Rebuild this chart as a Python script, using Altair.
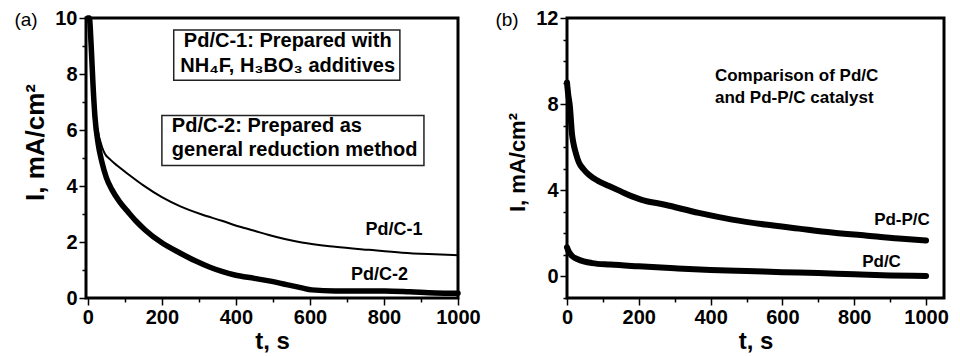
import altair as alt
import pandas as pd

FONT = "Liberation Sans"

# ---------------- Panel (a) data ----------------
t_pdc1 = [0, 3, 8, 16, 25, 38, 46, 60, 80, 111, 150, 200, 250, 308, 362, 397,
          450, 489, 578, 668, 759, 849, 920, 1000]
i_pdc1 = [10.0, 9.8, 8.6, 7.0, 6.1, 5.4, 5.15, 4.95, 4.72, 4.4, 4.02, 3.6,
          3.27, 2.98, 2.76, 2.6, 2.4, 2.25, 1.98, 1.83, 1.72, 1.62, 1.57, 1.53]

t_pdc2 = [0, 4, 9, 14, 19, 28, 38, 50, 65, 85, 110, 130, 154, 200, 250, 290,
          330, 362, 397, 450, 489, 540, 578, 605, 668, 740, 803, 870, 938, 1000]
i_pdc2 = [10.0, 10.0, 9.0, 7.6, 6.5, 5.5, 4.85, 4.3, 3.87, 3.45, 3.05, 2.75,
          2.44, 1.97, 1.6, 1.33, 1.1, 0.95, 0.82, 0.7, 0.61, 0.47, 0.36, 0.29,
          0.25, 0.25, 0.25, 0.22, 0.18, 0.17]

# annotation boxes (data units)
box_t = [232, 200]
box_t2 = [843, 908]
box_i = [9.57, 6.52]
box_i2 = [7.78, 4.73]

box1_lines = ["Pd/C-1: Prepared with", "NH\u2084F, H\u2083BO\u2083 additives"]
box1_t = [540, 540]
box1_i = [9.17, 8.3]

box2_lines = ["Pd/C-2: Prepared as", "general reduction method"]
box2_t = [227, 227]
box2_i = [6.16, 5.27]

curve_a_labels = ["Pd/C-1", "Pd/C-2"]
curve_a_t = [827, 788]
curve_a_i = [2.42, 0.81]

# ---------------- Panel (b) data ----------------
t_pdpc = [0, 3, 8, 14, 19, 25, 33, 45, 61, 85, 117, 150, 181, 208, 273, 367,
          460, 552, 646, 738, 831, 924, 1000]
i_pdpc = [9.0, 8.5, 7.9, 6.6, 6.1, 5.7, 5.3, 5.0, 4.72, 4.45, 4.2, 3.95, 3.72,
          3.56, 3.33, 2.95, 2.64, 2.41, 2.22, 2.04, 1.9, 1.76, 1.67]

t_pdc = [0, 5, 14, 30, 70, 120, 200, 300, 400, 500, 600, 700, 800, 900, 1000]
i_pdc = [1.35, 1.15, 0.95, 0.8, 0.62, 0.55, 0.47, 0.38, 0.3, 0.25, 0.2, 0.16,
         0.1, 0.05, 0.02]

note_b_lines = ["Comparison of Pd/C", "and Pd-P/C catalyst"]
note_b_t = [412, 412]
note_b_i = [9.31, 8.29]

curve_b_labels = ["Pd-P/C", "Pd/C"]
curve_b_t = [933, 876]
curve_b_i = [2.6, 0.65]

# tick positions
xa_major = [0, 200, 400, 600, 800, 1000]
xa_minor = [100, 300, 500, 700, 900]
ya_major = [0, 2, 4, 6, 8, 10]
ya_minor = [1, 3, 5, 7, 9]
xb_major = [0, 200, 400, 600, 800, 1000]
xb_minor = [100, 300, 500, 700, 900]
yb_major = [0, 4, 8, 12]
yb_minor = [-1, 1, 2, 3, 5, 6, 7, 9, 10, 11]


def major_axis(values, title_pad, orient, **kw):
    return alt.Axis(values=values, format="d", tickSize=7, orient=orient,
                    titlePadding=title_pad, labelFlush=False, labelOverlap=False, **kw)


def minor_axis(values, orient):
    return alt.Axis(values=values, tickSize=4, labels=False, title=None, orient=orient)


def line_df(t, i):
    return pd.DataFrame({"t": t, "I": i})


def text_df(labels, t, i):
    return pd.DataFrame({"label": labels, "t": t, "I": i})


def build_panel(xdom, ydom, xmaj, xmin, ymaj, ymin, ytitle_size, ytitle_y, lines, texts, letter,
                width):
    xs = alt.Scale(domain=xdom, nice=False, zero=False)
    ys = alt.Scale(domain=ydom, nice=False, zero=False)
    X = alt.X("t:Q", scale=xs, title="t, s", axis=major_axis(xmaj, 2, "bottom"))
    Y = alt.Y("I:Q", scale=ys, title="I, mA/cm\u00b2",
              axis=major_axis(ymaj, 6, "left", titleFontSize=ytitle_size, titleY=ytitle_y))
    Xm = alt.X("t:Q", scale=xs, axis=minor_axis(xmin, "bottom"))
    Ym = alt.Y("I:Q", scale=ys, axis=minor_axis(ymin, "left"))

    layers = []
    for (t, i, w) in lines:
        layers.append(alt.Chart(line_df(t, i)).mark_line(
            color="black", strokeWidth=w, interpolate="monotone", strokeCap="round"
        ).encode(x=X, y=Y))
    t0, i0, _ = lines[0]
    minor_layer = alt.Chart(line_df(t0, i0)).mark_line(opacity=0).encode(x=Xm, y=Ym)
    for kind, df, props in texts:
        if kind == "rect":
            layers.append(alt.Chart(df).mark_rect(**props).encode(
                x=alt.X("t:Q", scale=xs), x2="t2", y=alt.Y("I:Q", scale=ys), y2="I2"))
        else:
            layers.append(alt.Chart(df).mark_text(**props).encode(
                x=alt.X("t:Q", scale=xs), y=alt.Y("I:Q", scale=ys), text="label:N"))
    layers.append(alt.Chart(pd.DataFrame({"label": [letter]})).mark_text(
        font=FONT, fontSize=19, align="center", baseline="middle", color="black"
    ).encode(x=alt.value(-60), y=alt.value(2), text="label:N"))

    main = alt.layer(*layers)
    return alt.layer(main, minor_layer).resolve_axis(x="independent", y="independent").properties(
        width=width, height=280)


def tstyle(size, align):
    return dict(font=FONT, fontSize=size, fontWeight="bold", align=align,
                baseline="middle", color="black")


texts_a = [
    ("rect", pd.DataFrame({"t": box_t, "t2": box_t2, "I": box_i, "I2": box_i2}),
     dict(fill="white", stroke="#222222", strokeWidth=1.5)),
    ("text", text_df(box1_lines, box1_t, box1_i), tstyle(20, "center")),
    ("text", text_df(box2_lines, box2_t, box2_i), tstyle(20, "left")),
    ("text", text_df(curve_a_labels, curve_a_t, curve_a_i), tstyle(18, "center")),
]
texts_b = [
    ("text", text_df(note_b_lines, note_b_t, note_b_i), tstyle(17, "left")),
    ("text", text_df(curve_b_labels, curve_b_t, curve_b_i), tstyle(17, "center")),
]

panel_a = build_panel([-5, 1000], [0, 10], xa_major, xa_minor, ya_major, ya_minor, 26, 124,
                      [(t_pdc1, i_pdc1, 2), (t_pdc2, i_pdc2, 5.5)], texts_a, "(a)", 372)
panel_b = build_panel([0, 1050], [-1, 12], xb_major, xb_minor, yb_major, yb_minor, 22, 144,
                      [(t_pdpc, i_pdpc, 6), (t_pdc, i_pdc, 6)], texts_b, "(b)", 377)

chart = alt.hconcat(panel_a, panel_b, spacing=109, bounds="flush").properties(
    padding={"left": 4, "top": -3, "right": 0, "bottom": 0},
    background="white",
).configure_view(
    stroke="black", strokeWidth=3
).configure_axis(
    grid=False, domain=False, tickColor="black", tickWidth=1.5,
    labelFont=FONT, labelFontSize=20, labelFontWeight="bold", labelColor="black",
    labelPadding=2,
    titleFont=FONT, titleFontSize=24, titleFontWeight="bold", titleColor="black",
)

chart.save("out.html", embed_options={"renderer": "svg", "actions": False})
